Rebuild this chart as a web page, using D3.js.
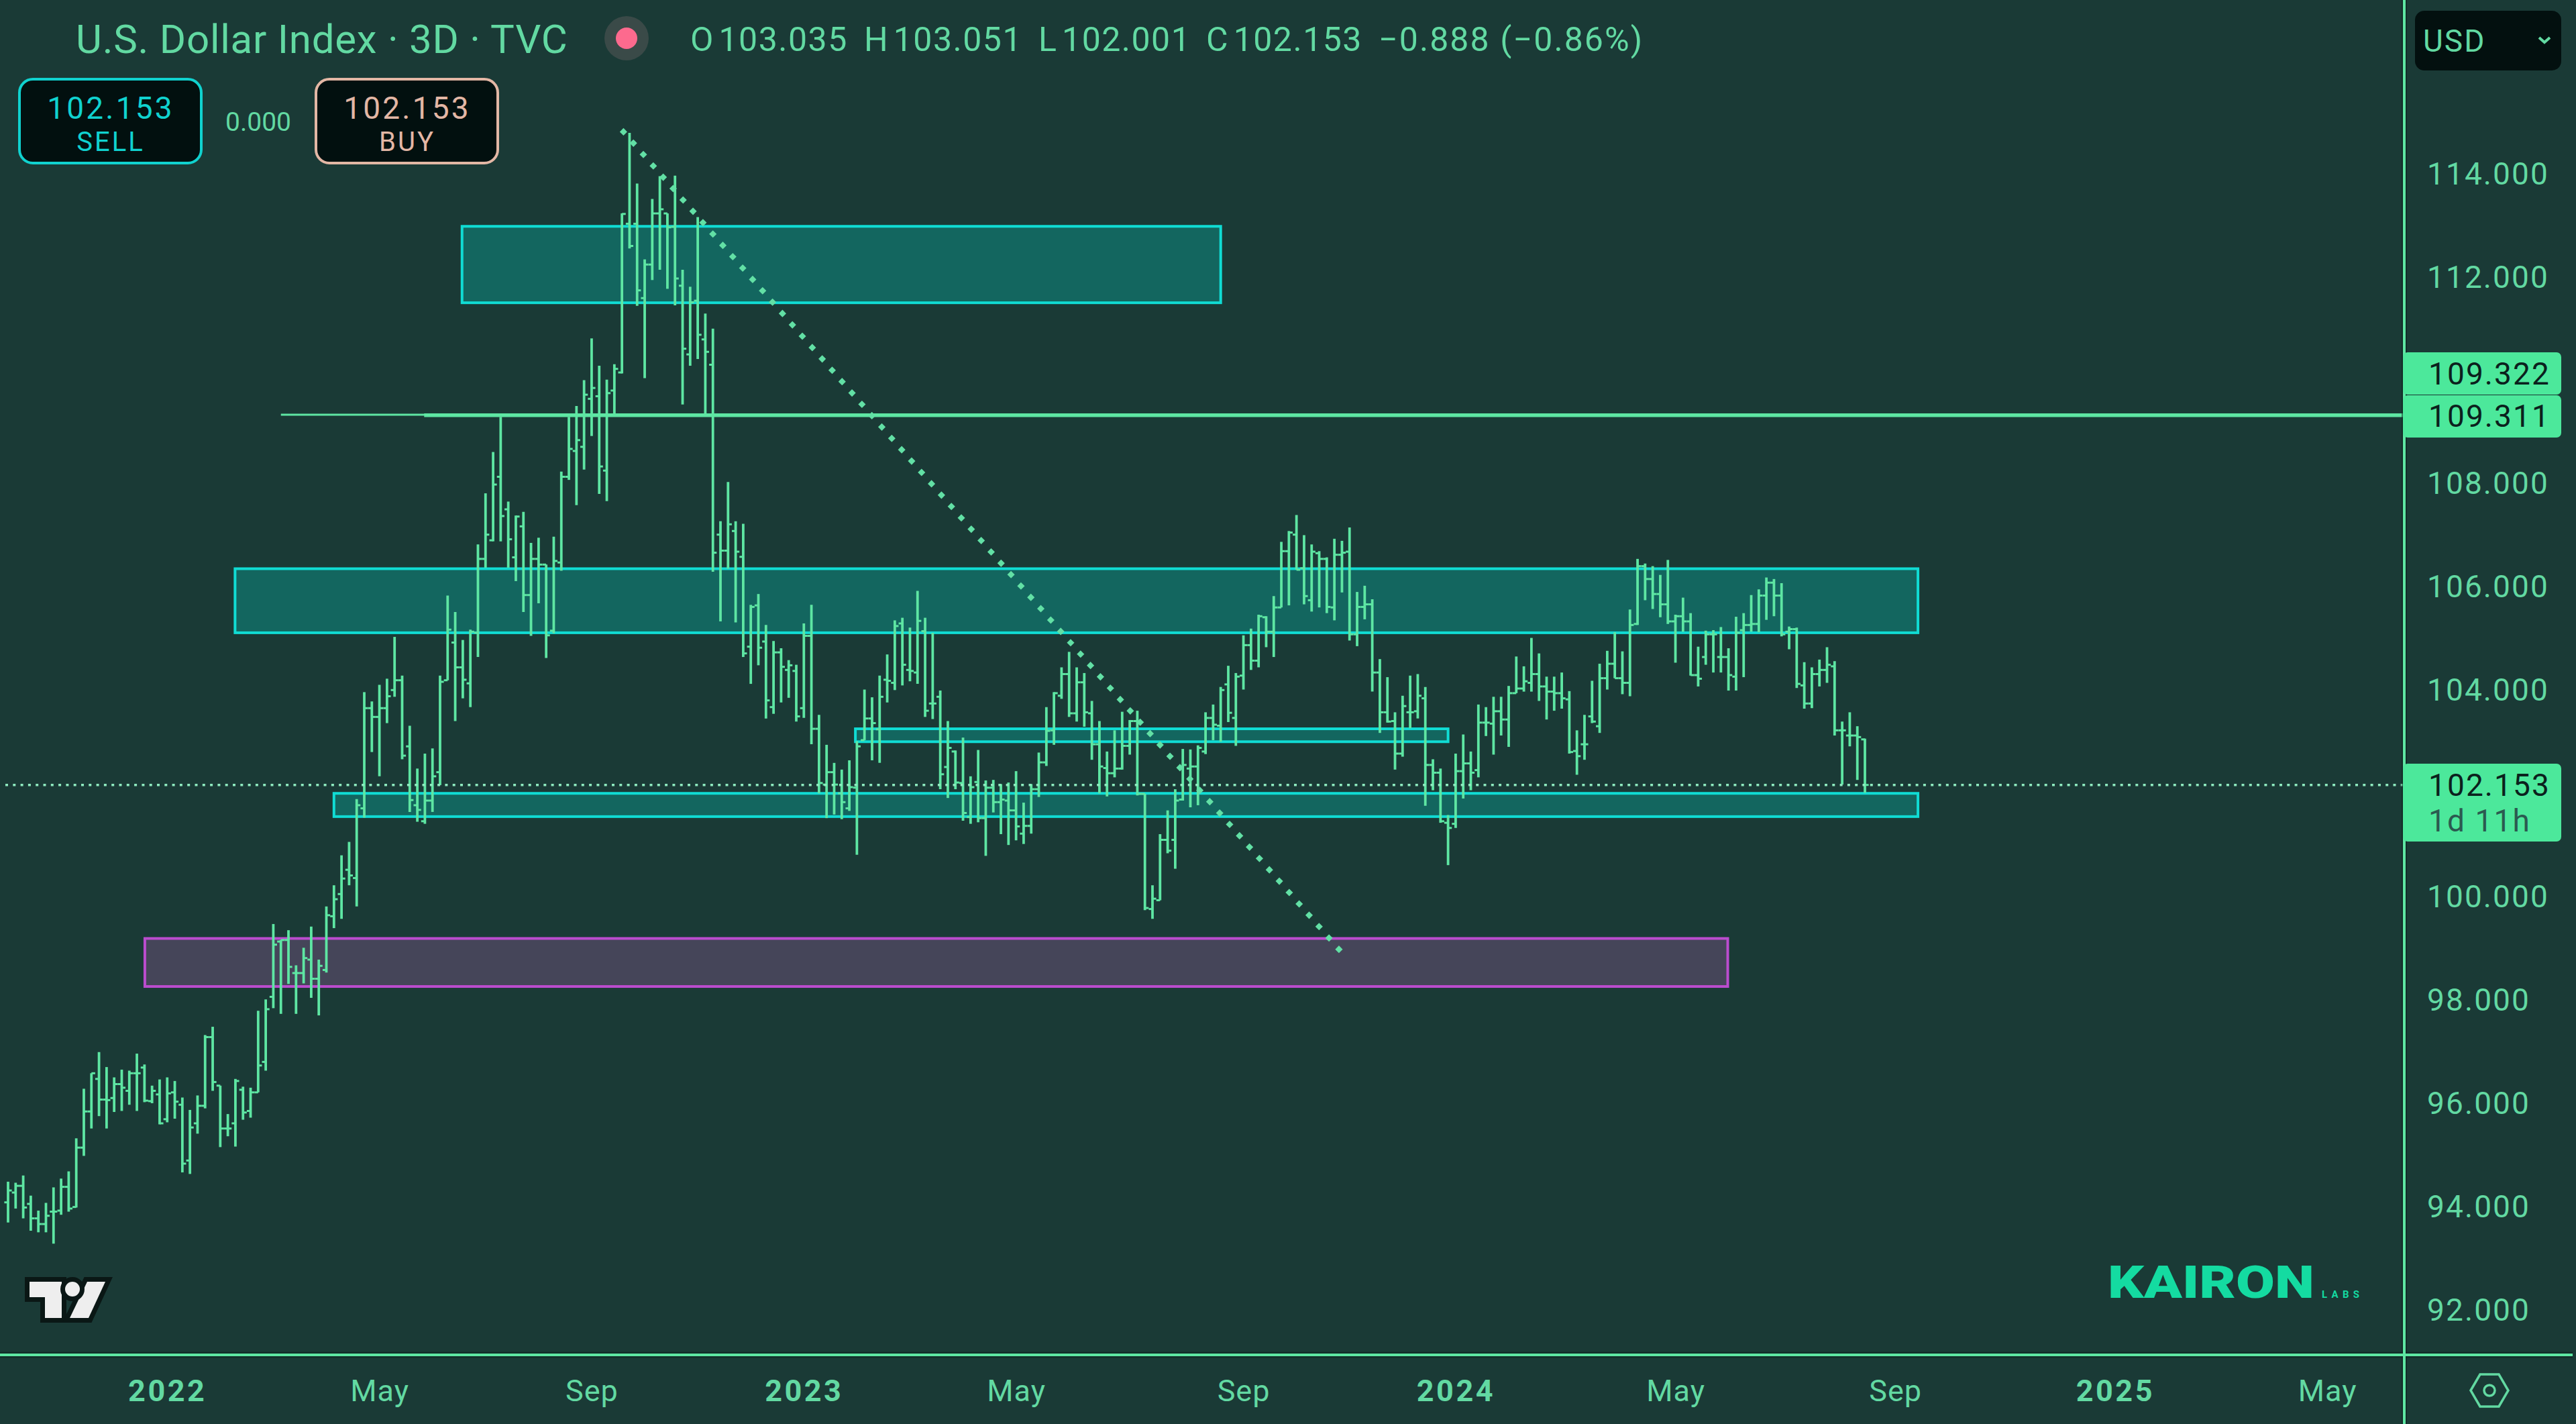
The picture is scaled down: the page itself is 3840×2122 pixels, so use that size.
<!DOCTYPE html>
<html>
<head>
<meta charset="utf-8">
<title>U.S. Dollar Index 3D</title>
<script src="https://cdn.jsdelivr.net/npm/d3@7"></script>
<style>
  html, body { margin: 0; padding: 0; background: #1a3a36; }
  svg { display: block; }
  text { font-family: Roboto, sans-serif; }
</style>
</head>
<body>
<svg id="chart" width="3840" height="2122"></svg>
<script>
// bar values, one entry per 3D bar
var barOpen = [
  94.07,94.26,94.39,94.04,93.76,93.65,93.89,93.91,94.37,93.98,
  95.13,95.83,96.46,96.06,96.09,96.36,96.23,96.57,96.68,96.03,
  96.16,95.68,96.20,95.96,94.88,95.60,95.94,97.27,96.33,95.50,
  95.60,96.25,95.84,96.20,96.79,98.05,99.12,99.15,98.51,98.51,
  98.77,98.40,98.57,99.61,100.04,100.51,100.35,101.70,103.64,103.47,
  103.64,103.99,104.18,102.90,101.76,101.45,101.85,102.40,104.18,104.91,
  104.43,104.12,105.10,106.53,106.89,108.12,107.49,106.56,107.16,105.83,
  106.53,106.42,105.14,106.46,108.12,108.62,108.70,109.63,109.68,108.24,
  109.79,110.14,113.02,113.02,111.58,112.23,113.22,113.22,112.96,111.82,
  110.49,111.53,110.78,110.29,107.00,106.69,107.07,106.57,104.83,105.63,
  104.93,103.66,104.72,104.38,104.36,103.64,105.04,103.24,102.16,102.40,
  101.99,101.70,102.10,103.02,103.44,103.23,104.19,104.13,105.28,104.38,
  104.33,105.13,103.73,103.86,102.50,102.80,102.19,101.53,102.21,101.51,
  102.10,101.82,101.85,101.66,101.21,101.36,102.07,102.59,103.21,103.88,
  104.30,103.54,104.14,103.54,102.94,102.48,102.38,102.47,102.91,103.39,
  101.98,99.75,99.92,101.09,101.09,101.87,102.47,102.51,102.80,103.45,
  103.30,104.10,103.45,104.27,104.86,104.56,105.40,105.12,105.59,106.68,
  107.00,106.35,105.73,106.64,106.53,105.59,106.61,106.67,105.07,105.60,
  105.65,104.33,103.56,103.39,102.76,103.56,103.58,103.83,102.54,102.39,
  101.42,101.40,102.42,102.57,102.44,103.36,103.34,103.58,103.42,103.93,
  104.02,104.13,104.30,104.06,103.96,103.93,103.81,102.81,102.94,103.48,
  103.29,104.22,104.50,104.22,104.13,105.27,106.39,106.14,105.85,105.65,
  105.32,105.42,105.32,104.28,104.63,105.07,104.63,104.63,104.25,105.15,
  105.25,105.27,105.82,106.07,105.82,105.12,105.17,104.08,103.73,104.30,
  104.38,104.45,103.21,103.11,103.11,103.035
];
var barHigh = [
  94.47,94.45,94.59,94.20,93.91,94.06,94.36,94.53,94.67,95.31,
  96.27,96.57,96.98,96.69,96.49,96.64,96.62,96.95,96.74,96.33,
  96.45,96.49,96.42,96.10,95.86,96.14,97.31,97.47,96.33,95.78,
  96.46,96.31,96.29,97.78,98.00,99.46,99.15,99.34,98.66,99.00,
  99.41,98.77,99.80,100.21,100.79,101.05,101.88,103.95,103.77,104.09,
  104.21,105.02,104.27,103.30,102.47,102.76,102.86,104.27,105.82,105.50,
  104.96,105.16,106.81,107.80,108.60,109.28,107.64,107.37,107.44,106.84,
  106.94,106.42,106.96,108.22,109.28,109.49,109.99,110.80,110.27,110.00,
  110.30,113.22,114.78,113.80,112.33,113.50,113.94,113.22,113.95,112.13,
  111.80,113.15,111.28,110.99,107.26,108.02,107.26,107.21,105.64,105.85,
  105.25,104.94,104.80,104.57,104.48,105.28,105.64,103.51,102.93,102.58,
  102.45,102.63,103.00,104.00,103.85,104.27,104.68,105.34,105.39,105.20,
  105.91,105.39,105.10,103.98,103.39,102.82,103.07,102.32,102.83,102.24,
  102.25,102.17,102.20,102.42,101.81,102.17,102.78,103.66,103.95,104.43,
  104.73,104.43,104.32,103.78,103.39,102.80,103.21,103.57,103.41,103.59,
  101.98,100.21,101.20,101.66,102.07,102.85,102.84,102.92,103.56,103.71,
  104.05,104.46,104.32,105.05,105.18,105.45,105.42,105.81,106.86,107.07,
  107.38,106.99,106.81,106.68,106.56,106.92,106.88,107.14,105.89,106.01,
  105.75,104.59,104.24,103.56,103.88,104.27,104.30,104.05,102.65,102.47,
  101.57,102.76,103.13,102.80,103.71,103.66,103.86,103.86,104.07,104.64,
  104.45,105.00,104.70,104.25,104.25,104.33,103.97,103.21,103.51,104.17,
  104.50,104.75,105.11,104.74,105.55,106.53,106.44,106.39,106.22,106.51,
  105.45,105.78,105.48,104.83,105.14,105.15,105.21,104.80,105.41,105.48,
  105.83,105.94,106.17,106.14,106.06,105.22,105.20,104.53,104.43,104.58,
  104.82,104.55,103.38,103.56,103.29,103.05
];
var barLow = [
  93.68,93.95,93.76,93.52,93.49,93.49,93.27,93.83,93.89,93.97,
  94.97,95.50,95.74,95.50,95.82,95.84,95.96,95.84,96.01,95.99,
  95.58,95.62,95.69,94.65,94.62,95.40,95.89,96.23,95.14,95.35,
  95.15,95.67,95.71,96.20,96.62,97.83,97.72,98.30,97.72,98.31,
  98.03,97.69,98.52,99.38,99.56,100.21,99.80,101.52,102.79,102.32,
  103.35,103.86,102.65,101.63,101.44,101.40,101.63,102.15,104.18,103.39,
  103.83,103.66,104.63,106.36,106.87,106.87,106.36,106.10,105.50,105.04,
  105.67,104.61,105.09,106.30,108.06,107.57,108.26,108.91,107.79,107.65,
  109.32,110.12,112.54,111.43,110.03,111.93,112.13,111.76,111.44,109.52,
  110.27,110.40,109.32,106.28,105.32,106.34,105.30,104.63,104.11,104.47,
  103.44,103.53,103.75,103.84,103.38,103.45,102.94,101.99,101.51,101.58,
  101.49,101.65,100.80,103.02,102.63,102.58,103.75,103.99,104.08,104.16,
  104.11,103.47,103.43,102.07,101.90,102.07,101.46,101.40,101.43,100.78,
  101.62,101.20,100.99,101.08,101.01,101.21,101.92,102.52,102.93,103.82,
  103.47,103.38,103.28,102.64,101.99,101.93,102.30,102.45,102.74,101.95,
  99.73,99.56,99.92,100.83,100.53,101.85,101.72,101.76,102.75,103.02,
  102.99,103.37,102.91,104.00,104.38,104.43,104.82,104.63,105.59,105.63,
  106.32,105.65,105.51,105.59,105.48,105.34,105.88,104.95,104.84,105.36,
  103.96,103.16,103.36,102.45,102.70,103.25,103.44,101.75,102.05,101.42,
  100.60,101.32,101.89,102.05,102.30,103.10,102.74,103.11,102.89,103.93,
  103.96,103.96,103.78,103.42,103.59,103.63,102.76,102.35,102.64,103.35,
  103.16,104.00,104.22,103.91,103.87,105.25,105.73,105.56,105.40,105.27,
  104.52,105.12,104.27,104.06,104.48,104.33,104.33,103.98,103.98,104.24,
  105.12,105.11,105.35,105.42,105.03,104.78,104.03,103.63,103.64,104.06,
  104.13,103.11,102.16,102.90,102.25,102.00
];
var barClose = [
  94.30,94.39,93.97,93.76,93.65,93.81,93.89,94.37,93.95,95.13,
  95.83,96.57,96.06,96.05,96.36,96.29,96.57,96.57,96.04,96.23,
  95.60,96.18,96.02,94.82,95.52,95.94,97.27,96.40,95.50,95.50,
  96.42,95.81,96.20,96.72,97.81,99.06,99.15,98.63,98.51,98.80,
  98.40,98.65,99.63,99.94,100.34,100.40,101.76,103.64,103.47,103.64,
  103.87,104.18,102.72,101.86,101.67,101.85,102.32,104.15,105.16,104.43,
  104.19,105.12,106.53,107.00,107.97,107.36,106.91,107.35,105.83,106.53,
  106.42,105.05,106.49,108.12,108.66,108.83,109.71,109.84,108.32,109.74,
  110.21,113.21,112.59,111.73,112.23,113.22,113.30,112.95,111.96,110.60,
  111.50,110.87,110.54,106.65,106.69,107.20,106.67,104.70,105.60,104.81,
  103.79,104.72,104.44,104.47,103.48,105.04,103.24,102.19,102.40,102.16,
  101.82,102.11,102.90,103.44,103.35,103.86,104.17,105.23,104.48,104.36,
  105.33,103.59,103.73,102.36,102.87,102.20,101.61,102.11,101.51,102.10,
  101.82,101.87,101.66,101.35,101.36,102.07,102.59,103.20,103.93,104.30,
  103.54,104.14,103.56,102.94,102.51,102.38,102.47,102.91,103.39,101.98,
  99.77,99.95,101.09,100.88,101.85,102.54,102.51,102.87,103.45,103.32,
  103.99,103.55,104.25,104.86,104.56,105.42,105.12,105.59,106.68,107.04,
  106.32,105.81,106.67,106.53,105.60,106.61,106.65,105.07,105.60,105.65,
  104.33,103.56,103.38,102.76,103.68,103.56,103.88,102.54,102.39,101.45,
  101.32,102.42,102.57,102.39,103.36,103.36,103.58,103.42,103.93,104.02,
  104.16,104.30,104.06,103.96,103.93,103.83,102.79,102.71,102.94,103.38,
  104.22,104.50,104.22,104.13,105.25,106.39,106.14,105.85,105.65,105.32,
  105.42,105.32,104.28,104.21,105.07,105.07,104.63,104.28,105.10,105.25,
  105.27,105.82,106.07,105.82,105.07,105.17,104.11,103.73,104.30,104.38,
  104.48,103.21,103.21,103.11,103.08,102.153
];

// axis ticks
var priceTicks = [92,94,96,98,100,102,104,106,108,110,112,114];
var hiddenPriceTicks = [102,110];
var timeTickBars = [21,49,77,105,133,163,191,220,249,278,306];
var timeTickLabels = ['2022','May','Sep','2023','May','Sep','2024','May','Sep','2025','May'];

// drawings, in bar numbers and prices
var zoneStartBar = [59.9, 29.95, 43, 111.8, 18.05];
var zoneEndBar   = [160, 252, 252, 190, 226.9];
var zoneTop      = [112.97, 106.34, 101.99, 103.24, 99.18];
var zoneBottom   = [111.49, 105.10, 101.54, 102.99, 98.25];
var zoneKind     = ['teal','teal','teal','teal','purple'];
var trendBars    = [81.2, 175.6];
var trendPrices  = [114.80, 98.97];
var levelStartBar = [36, 54.9];
var levelPrices   = [109.322, 109.311];
var lastPrice = 102.153;

var green = '#5ee6a3', labelGreen = '#62d9a2', flag = '#4ce89b';

var svg = d3.select('#chart');
svg.append('rect').attr('width', 3840).attr('height', 2122).attr('fill', '#1a3a36');

var x = d3.scaleLinear().domain([0, 245]).range([12, 2780]);
var y = d3.scaleLinear().domain([92, 114]).range([1951, 258]);

// zones
zoneKind.forEach(function(kind, i) {
    svg.append('rect')
        .attr('x', x(zoneStartBar[i]))
        .attr('y', y(zoneTop[i]))
        .attr('width', x(zoneEndBar[i]) - x(zoneStartBar[i]))
        .attr('height', y(zoneBottom[i]) - y(zoneTop[i]))
        .attr('fill', kind == 'teal' ? '#13665f' : '#454559')
        .attr('stroke', kind == 'teal' ? '#10dcd4' : '#bb4cce')
        .attr('stroke-width', 4);
});

// the bars
var bars = svg.append('g').attr('stroke', green);
barOpen.forEach(function(o, i) {
    var g = bars.append('g');
    g.append('line').attr('x1', x(i)).attr('x2', x(i))
        .attr('y1', y(barHigh[i])).attr('y2', y(barLow[i])).attr('stroke-width', 3.8);
    g.append('line').attr('x1', x(i) - 5.6).attr('x2', x(i))
        .attr('y1', y(o)).attr('y2', y(o)).attr('stroke-width', 3);
    g.append('line').attr('x1', x(i)).attr('x2', x(i) + 5.6)
        .attr('y1', y(barClose[i])).attr('y2', y(barClose[i])).attr('stroke-width', 3);
});

// horizontal levels
svg.append('line').attr('x1', x(levelStartBar[0])).attr('x2', 3584)
    .attr('y1', y(levelPrices[0])).attr('y2', y(levelPrices[0]))
    .attr('stroke', green).attr('stroke-width', 3);
svg.append('line').attr('x1', x(levelStartBar[1])).attr('x2', 3584)
    .attr('y1', y(levelPrices[1])).attr('y2', y(levelPrices[1]))
    .attr('stroke', green).attr('stroke-width', 5.5);

// dotted trend line, diamonds spaced along the segment
var trendDots = 73;
var diamond = d3.symbol().type(d3.symbolSquare).size(62);
d3.range(trendDots).forEach(function(k) {
    var t = k / (trendDots - 1);
    var px = x(trendBars[0]) + t * (x(trendBars[1]) - x(trendBars[0]));
    var py = y(trendPrices[0]) + t * (y(trendPrices[1]) - y(trendPrices[0]));
    svg.append('path').attr('d', diamond())
        .attr('transform', 'translate(' + px + ',' + py + ') rotate(45)')
        .attr('fill', '#62e0a5');
});

// last price line
svg.append('line').attr('x1', 8).attr('x2', 3584)
    .attr('y1', y(lastPrice)).attr('y2', y(lastPrice))
    .attr('stroke', '#8eeabf').attr('stroke-width', 3.5).attr('stroke-dasharray', '4 7.3');

// panel separators
svg.append('line').attr('x1', 3584).attr('x2', 3584).attr('y1', 0).attr('y2', 2122)
    .attr('stroke', '#0d2320').attr('stroke-width', 8).attr('opacity', 0.55);
svg.append('line').attr('x1', 0).attr('x2', 3835).attr('y1', 2019).attr('y2', 2019)
    .attr('stroke', '#0d2320').attr('stroke-width', 9).attr('opacity', 0.55);
svg.append('line').attr('x1', 3584).attr('x2', 3584).attr('y1', 0).attr('y2', 2122)
    .attr('stroke', green).attr('stroke-width', 4);
svg.append('line').attr('x1', 0).attr('x2', 3835).attr('y1', 2019).attr('y2', 2019)
    .attr('stroke', green).attr('stroke-width', 4);

// price axis
var priceAxis = d3.axisRight(y)
    .tickValues(priceTicks.filter(function(d) { return hiddenPriceTicks.indexOf(d) < 0; }))
    .tickSize(0).tickPadding(0).tickFormat(d3.format('.3f'));
var priceG = svg.append('g').attr('transform', 'translate(3618,1.5)').call(priceAxis);
priceG.select('.domain').remove();
priceG.selectAll('text').attr('fill', labelGreen).attr('font-size', 46)
    .attr('letter-spacing', 2.1).attr('font-family', 'Roboto, sans-serif');

// time axis
var timeAxis = d3.axisBottom(x).tickValues(timeTickBars).tickSize(0).tickPadding(0)
    .tickFormat(function(d, i) { return timeTickLabels[i]; });
var timeG = svg.append('g').attr('transform', 'translate(0,2056)').call(timeAxis);
timeG.select('.domain').remove();
timeG.selectAll('text').attr('fill', labelGreen).attr('font-size', 45)
    .attr('font-family', 'Roboto, sans-serif')
    .attr('dy', '0.71em').attr('y', 0)
    .attr('letter-spacing', function(d, i) { return /^\d+$/.test(timeTickLabels[i]) ? 3.5 : 1; })
    .attr('font-weight', function(d, i) { return /^\d+$/.test(timeTickLabels[i]) ? 700 : 400; });

// price flags
function flagBox(top, h) {
    svg.append('rect').attr('x', 3582).attr('y', top).attr('width', 236).attr('height', h)
        .attr('rx', 7).attr('fill', flag);
}
function flagText(txt, cy, col) {
    svg.append('text').attr('x', 3620).attr('y', cy).attr('dy', '0.36em').text(txt)
        .attr('fill', col).attr('font-size', 46).attr('letter-spacing', 2.1);
}
flagBox(525, 63);
flagBox(589, 63);
flagText('109.322', 556, '#0b211d');
flagText('109.311', 619, '#0b211d');
flagBox(1138, 116);
flagText('102.153', 1169, '#0b211d');
flagText('1d 11h', 1222, '#2b5a50');

// header
svg.append('text').attr('x', 113).attr('y', 79).text('U.S. Dollar Index · 3D · TVC')
    .attr('fill', labelGreen).attr('font-size', 60).attr('letter-spacing', 0.75);
svg.append('circle').attr('cx', 934).attr('cy', 57).attr('r', 33).attr('fill', '#3a4a48');
svg.append('circle').attr('cx', 934).attr('cy', 57).attr('r', 16).attr('fill', '#fd6a8e');

var ohlcText = ['O\u200A103.035', 'H\u200A103.051', 'L\u200A102.001', 'C\u200A102.153', '\u22120.888 (\u22120.86%)'];
var ohlcLeft = [1029, 1288, 1548, 1798, 2055];
ohlcText.forEach(function(t, i) {
    svg.append('text').attr('x', ohlcLeft[i]).attr('y', 76).text(t)
        .attr('fill', labelGreen).attr('font-size', 50)
        .attr('letter-spacing', i == 4 ? 2.1 : 1.5);
});

// sell and buy buttons
function tradeBox(left, col, word) {
    svg.append('rect').attr('x', left).attr('y', 118).attr('width', 271).attr('height', 125)
        .attr('rx', 20).attr('fill', '#02100f').attr('stroke', col).attr('stroke-width', 4);
    svg.append('text').attr('x', left + 136).attr('y', 160).attr('dy', '0.36em')
        .attr('text-anchor', 'middle').text('102.153')
        .attr('fill', col).attr('font-size', 46).attr('letter-spacing', 3.2);
    svg.append('text').attr('x', left + 136).attr('y', 211).attr('dy', '0.36em')
        .attr('text-anchor', 'middle').text(word)
        .attr('fill', col).attr('font-size', 40).attr('letter-spacing', 3);
}
tradeBox(29, '#10d2cf', 'SELL');
tradeBox(471, '#e3b7a5', 'BUY');
svg.append('text').attr('x', 385).attr('y', 181).attr('dy', '0.36em').attr('text-anchor', 'middle')
    .text('0.000').attr('fill', labelGreen).attr('font-size', 39);

// currency box
svg.append('rect').attr('x', 3600).attr('y', 16).attr('width', 218).attr('height', 89)
    .attr('rx', 14).attr('fill', '#03100f');
svg.append('text').attr('x', 3612).attr('y', 60).attr('dy', '0.36em').text('USD')
    .attr('fill', labelGreen).attr('font-size', 46).attr('letter-spacing', 2);
svg.append('path').attr('d', 'M3785 56 L3793 63 L3801 56').attr('fill', 'none')
    .attr('stroke', labelGreen).attr('stroke-width', 4);

// settings icon
svg.append('path').attr('d', 'M3683 2072 L3697 2048 H3725 L3739 2072 L3725 2096 H3697 Z')
    .attr('fill', 'none').attr('stroke', labelGreen).attr('stroke-width', 3.5);
svg.append('circle').attr('cx', 3711).attr('cy', 2072).attr('r', 8)
    .attr('fill', 'none').attr('stroke', labelGreen).attr('stroke-width', 3.5);

// watermark
svg.append('text').attr('x', 3142).attr('y', 1934).text('KAIRON')
    .attr('fill', '#14dba1').attr('font-size', 67).attr('font-weight', 900)
    .attr('font-family', 'Inter, sans-serif')
    .attr('textLength', 308).attr('lengthAdjust', 'spacingAndGlyphs');
svg.append('text').attr('x', 3461).attr('y', 1934).text('LABS')
    .attr('fill', '#14dba1').attr('font-size', 15).attr('font-weight', 700)
    .attr('font-family', 'Inter, sans-serif')
    .attr('textLength', 56);

// TV logo
var logo = svg.append('g');
var logoT = 'M44 1910 H92 V1964 H67 V1933 H44 Z';
var logoV = 'M130 1910 H157 L132 1964 H104 Z';
[logoT, logoV].forEach(function(d) {
    logo.append('path').attr('d', d).attr('fill', '#eeeeee')
        .attr('stroke', '#0a1715').attr('stroke-width', 14).attr('paint-order', 'stroke');
});
logo.append('circle').attr('cx', 108).attr('cy', 1921).attr('r', 11).attr('fill', '#eeeeee')
    .attr('stroke', '#0a1715').attr('stroke-width', 14).attr('paint-order', 'stroke');
</script>
</body>
</html>
